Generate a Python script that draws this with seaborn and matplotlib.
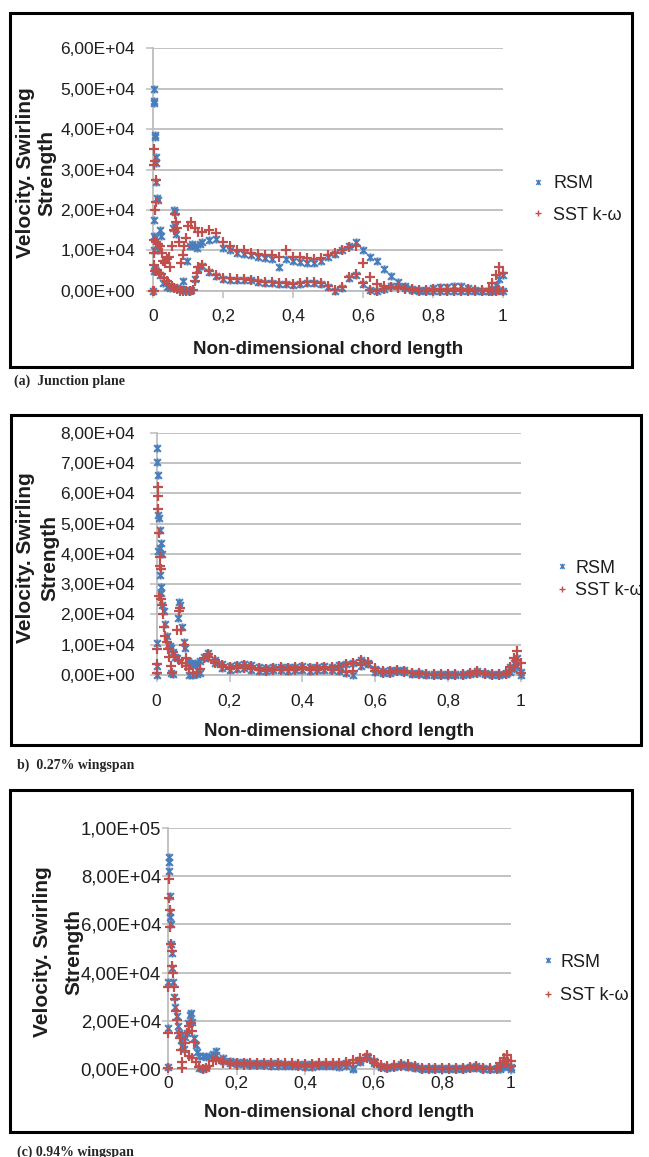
import pandas as pd
import matplotlib.pyplot as plt
import seaborn as sns
from matplotlib.path import Path
from matplotlib.patches import Rectangle
from matplotlib.lines import Line2D
from matplotlib.ticker import FuncFormatter, MultipleLocator

# Set style
sns.set_theme(style="whitegrid")
plt.rcParams['font.family'] = ['Liberation Sans', 'DejaVu Sans']

# ---------------- data (swirling strength in units of 1e4) ----------------
SCALE = 1e4
models = ['RSM', 'SST k-ω']

# chord stations used for the body of each surface (upper / lower branch)
chord = [0.14, 0.16, 0.18, 0.20, 0.22, 0.24, 0.26, 0.28, 0.30, 0.32,
         0.34, 0.36, 0.38, 0.40, 0.42, 0.44, 0.46, 0.48, 0.50, 0.52,
         0.54, 0.56, 0.58, 0.60, 0.62, 0.64, 0.66, 0.68, 0.70, 0.72,
         0.74, 0.76, 0.78, 0.80, 0.82, 0.84, 0.86, 0.88, 0.90, 0.92,
         0.94, 0.96, 0.97, 0.98, 0.99, 1.00]

# (a) Junction plane
p1_rsm_le = [(0.000, 0.00), (0.002, 5.00), (0.002, 4.70), (0.003, 4.65), (0.005, 3.85),
             (0.006, 3.80), (0.008, 3.30), (0.009, 3.15), (0.010, 2.70), (0.012, 2.30),
             (0.013, 2.25), (0.004, 1.75), (0.003, 1.35), (0.005, 1.30), (0.003, 1.00),
             (0.004, 0.50), (0.020, 1.50), (0.022, 1.35), (0.015, 1.00), (0.058, 1.55),
             (0.060, 2.00), (0.062, 1.95), (0.063, 1.60), (0.066, 1.40), (0.087, 0.25),
             (0.097, 0.75), (0.106, 1.10), (0.112, 1.15), (0.120, 1.10), (0.126, 1.05),
             (0.133, 1.15), (0.005, 0.55), (0.010, 0.50), (0.020, 0.40), (0.030, 0.20),
             (0.040, 0.10), (0.050, 0.08), (0.060, 0.10), (0.070, 0.08), (0.080, 0.05),
             (0.090, 0.02), (0.100, 0.00), (0.110, 0.03), (0.120, 0.30), (0.130, 0.55)]
p1_rsm_upper = [1.20, 1.25, 1.28, 1.05, 1.00, 0.95, 0.92, 0.88, 0.85, 0.82,
                0.80, 0.60, 0.80, 0.75, 0.72, 0.70, 0.70, 0.75, 0.85, 0.92,
                1.02, 1.12, 1.22, 1.00, 0.85, 0.75, 0.55, 0.38, 0.22, 0.12,
                0.06, 0.02, 0.02, 0.08, 0.10, 0.10, 0.12, 0.12, 0.08, 0.03,
                0.00, 0.00, 0.05, 0.15, 0.30, 0.40]
p1_rsm_lower = [0.62, 0.48, 0.38, 0.30, 0.28, 0.28, 0.28, 0.26, 0.22, 0.20,
                0.20, 0.18, 0.18, 0.16, 0.18, 0.20, 0.20, 0.18, 0.10, 0.00,
                0.08, 0.32, 0.40, 0.18, 0.02, 0.00, 0.04, 0.12, 0.12, 0.08,
                0.02, 0.00, 0.00, 0.00, 0.00, 0.00, 0.00, 0.00, 0.00, 0.00,
                0.00, 0.00, 0.00, 0.00, 0.02, 0.00]
p1_sst_le = [(0.003, 3.50), (0.004, 3.10), (0.005, 3.20), (0.008, 2.75), (0.010, 2.20),
             (0.007, 2.00), (0.004, 1.25), (0.008, 1.20), (0.015, 1.15), (0.020, 1.10),
             (0.025, 0.95), (0.030, 0.75), (0.035, 0.70), (0.040, 0.80), (0.045, 0.85),
             (0.050, 0.60), (0.055, 1.10), (0.060, 1.50), (0.062, 1.90), (0.065, 1.70),
             (0.070, 1.55), (0.075, 1.20), (0.080, 0.70), (0.085, 0.90), (0.090, 1.10),
             (0.095, 1.30), (0.100, 1.60), (0.110, 1.70), (0.120, 1.55), (0.130, 1.45),
             (0.002, 0.95), (0.003, 0.65), (0.000, 0.00), (0.003, 0.00), (0.005, 0.50),
             (0.010, 0.50), (0.017, 0.45), (0.024, 0.42), (0.031, 0.33), (0.039, 0.25),
             (0.046, 0.18), (0.053, 0.12), (0.060, 0.08), (0.068, 0.04), (0.077, 0.00),
             (0.085, 0.00), (0.095, 0.00), (0.105, 0.00), (0.115, 0.02), (0.120, 0.25),
             (0.125, 0.45), (0.130, 0.58)]
p1_sst_upper = [1.45, 1.50, 1.42, 1.22, 1.10, 1.02, 1.00, 0.95, 0.92, 0.90,
                0.90, 0.85, 1.00, 0.85, 0.85, 0.82, 0.80, 0.82, 0.88, 0.95,
                1.02, 1.08, 1.12, 0.70, 0.35, 0.18, 0.12, 0.10, 0.08, 0.06,
                0.04, 0.03, 0.03, 0.04, 0.05, 0.06, 0.05, 0.06, 0.04, 0.03,
                0.02, 0.05, 0.20, 0.40, 0.60, 0.45]
p1_sst_lower = [0.65, 0.50, 0.40, 0.33, 0.31, 0.30, 0.30, 0.28, 0.25, 0.22,
                0.22, 0.20, 0.20, 0.18, 0.20, 0.22, 0.22, 0.20, 0.12, 0.02,
                0.10, 0.35, 0.42, 0.20, 0.03, 0.00, 0.05, 0.10, 0.10, 0.08,
                0.03, 0.00, 0.00, 0.00, 0.00, 0.00, 0.00, 0.00, 0.00, 0.00,
                0.00, 0.00, 0.00, 0.00, 0.02, 0.00]

# (b) 0.27% wingspan
p2_rsm_le = [(0.000, 0.00), (0.000, 0.30), (0.000, 1.05), (0.002, 7.50), (0.002, 7.05),
             (0.003, 6.60), (0.005, 5.30), (0.006, 5.20), (0.008, 4.80), (0.005, 4.10),
             (0.010, 4.20), (0.012, 4.35), (0.014, 4.00), (0.008, 3.30), (0.012, 2.90),
             (0.013, 2.70), (0.016, 2.30), (0.020, 2.10), (0.024, 1.70), (0.028, 1.30),
             (0.032, 1.00), (0.036, 0.95), (0.040, 0.90), (0.045, 0.75), (0.050, 0.60),
             (0.055, 0.55), (0.058, 1.90), (0.062, 2.40), (0.065, 2.30), (0.070, 1.60),
             (0.075, 1.10), (0.078, 0.90), (0.085, 0.45), (0.090, 0.40), (0.095, 0.35),
             (0.100, 0.35), (0.105, 0.40), (0.110, 0.35), (0.120, 0.45), (0.130, 0.60),
             (0.090, 0.00), (0.100, 0.00), (0.110, 0.02), (0.120, 0.05), (0.040, 0.05),
             (0.045, 0.02)]
p2_rsm_upper = [0.72, 0.50, 0.35, 0.30, 0.32, 0.35, 0.32, 0.25, 0.22, 0.25,
                0.28, 0.25, 0.28, 0.30, 0.25, 0.28, 0.30, 0.28, 0.32, 0.35,
                0.38, 0.48, 0.40, 0.20, 0.12, 0.15, 0.18, 0.15, 0.08, 0.05,
                0.04, 0.03, 0.03, 0.03, 0.03, 0.03, 0.05, 0.12, 0.05, 0.03,
                0.03, 0.05, 0.25, 0.40, 0.55, 0.10]
p2_rsm_lower = [0.55, 0.38, 0.22, 0.18, 0.20, 0.22, 0.18, 0.14, 0.12, 0.15,
                0.16, 0.14, 0.16, 0.18, 0.14, 0.15, 0.18, 0.15, 0.12, 0.05,
                0.00, 0.30, 0.35, 0.10, 0.05, 0.08, 0.12, 0.10, 0.04, 0.02,
                0.01, 0.00, 0.00, 0.00, 0.00, 0.00, 0.02, 0.06, 0.02, 0.00,
                0.00, 0.02, 0.10, 0.20, 0.30, 0.00]
p2_sst_le = [(0.000, 0.05), (0.000, 0.35), (0.000, 0.85), (0.003, 6.20), (0.004, 5.90),
             (0.005, 5.50), (0.006, 4.70), (0.008, 3.90), (0.010, 3.60), (0.012, 3.50),
             (0.006, 2.60), (0.012, 2.50), (0.015, 2.30), (0.018, 2.00), (0.020, 1.60),
             (0.024, 1.30), (0.028, 1.10), (0.030, 0.85), (0.035, 0.60), (0.040, 0.30),
             (0.042, 0.05), (0.045, 0.75), (0.050, 0.60), (0.057, 1.50), (0.060, 2.10),
             (0.063, 2.20), (0.068, 1.50), (0.074, 1.00), (0.080, 0.55), (0.060, 0.50),
             (0.070, 0.40), (0.080, 0.30), (0.090, 0.20), (0.100, 0.05), (0.110, 0.05),
             (0.120, 0.20), (0.130, 0.55)]
p2_sst_upper = [0.70, 0.48, 0.32, 0.28, 0.30, 0.32, 0.30, 0.24, 0.20, 0.22,
                0.25, 0.22, 0.25, 0.28, 0.24, 0.26, 0.28, 0.26, 0.30, 0.35,
                0.40, 0.50, 0.42, 0.22, 0.12, 0.14, 0.16, 0.14, 0.08, 0.05,
                0.04, 0.04, 0.03, 0.03, 0.03, 0.04, 0.06, 0.12, 0.06, 0.04,
                0.04, 0.06, 0.28, 0.55, 0.78, 0.40]
p2_sst_lower = [0.58, 0.40, 0.25, 0.20, 0.22, 0.24, 0.20, 0.16, 0.14, 0.16,
                0.18, 0.16, 0.18, 0.20, 0.16, 0.17, 0.20, 0.18, 0.15, 0.10,
                0.12, 0.32, 0.38, 0.12, 0.06, 0.08, 0.12, 0.10, 0.05, 0.03,
                0.02, 0.01, 0.01, 0.01, 0.01, 0.01, 0.03, 0.08, 0.03, 0.01,
                0.01, 0.03, 0.15, 0.30, 0.50, 0.05]

# (c) 0.94% wingspan
p3_rsm_le = [(0.000, 0.10), (0.000, 1.70), (0.000, 3.60), (0.002, 8.80), (0.002, 8.60),
             (0.003, 8.20), (0.004, 7.20), (0.006, 6.50), (0.006, 6.30), (0.007, 6.00),
             (0.008, 5.20), (0.010, 4.80), (0.012, 4.20), (0.014, 3.60), (0.016, 3.00),
             (0.020, 2.60), (0.024, 2.20), (0.028, 1.80), (0.032, 1.50), (0.036, 1.20),
             (0.040, 0.95), (0.045, 0.85), (0.050, 1.35), (0.055, 1.50), (0.058, 1.90),
             (0.063, 2.25), (0.066, 2.35), (0.070, 1.95), (0.075, 1.30), (0.080, 1.00),
             (0.085, 0.70), (0.090, 0.55), (0.100, 0.55), (0.110, 0.50), (0.120, 0.55),
             (0.130, 0.65), (0.090, 0.05), (0.100, 0.00), (0.110, 0.05)]
p3_rsm_upper = [0.75, 0.45, 0.35, 0.30, 0.30, 0.28, 0.28, 0.27, 0.25, 0.25,
                0.24, 0.22, 0.22, 0.20, 0.20, 0.22, 0.22, 0.22, 0.20, 0.25,
                0.05, 0.40, 0.55, 0.35, 0.15, 0.10, 0.15, 0.20, 0.18, 0.12,
                0.06, 0.04, 0.04, 0.04, 0.04, 0.04, 0.05, 0.08, 0.12, 0.05,
                0.03, 0.05, 0.10, 0.25, 0.30, 0.10]
p3_rsm_lower = [0.60, 0.35, 0.25, 0.20, 0.20, 0.18, 0.18, 0.17, 0.15, 0.15,
                0.14, 0.12, 0.12, 0.10, 0.10, 0.12, 0.12, 0.12, 0.10, 0.15,
                0.00, 0.30, 0.45, 0.25, 0.08, 0.04, 0.08, 0.12, 0.10, 0.06,
                0.02, 0.00, 0.00, 0.00, 0.00, 0.00, 0.01, 0.04, 0.06, 0.02,
                0.00, 0.01, 0.03, 0.10, 0.15, 0.00]
p3_sst_le = [(0.000, 0.05), (0.000, 1.50), (0.000, 3.40), (0.003, 7.90), (0.003, 7.10),
             (0.004, 6.60), (0.006, 5.90), (0.008, 5.20), (0.010, 4.90), (0.012, 4.30),
             (0.014, 4.00), (0.017, 3.40), (0.020, 2.90), (0.023, 2.40), (0.026, 2.05),
             (0.030, 1.50), (0.034, 1.30), (0.037, 0.80), (0.039, 0.30), (0.040, 0.05),
             (0.050, 1.10), (0.055, 1.50), (0.060, 1.80), (0.065, 1.90), (0.070, 1.60),
             (0.075, 1.15), (0.050, 0.75), (0.060, 0.55), (0.070, 0.45), (0.080, 0.30),
             (0.090, 0.10), (0.100, 0.00), (0.110, 0.05), (0.120, 0.15), (0.130, 0.35)]
p3_sst_upper = [0.45, 0.35, 0.28, 0.26, 0.27, 0.28, 0.28, 0.27, 0.26, 0.26,
                0.25, 0.25, 0.24, 0.24, 0.24, 0.25, 0.26, 0.26, 0.28, 0.32,
                0.38, 0.48, 0.60, 0.40, 0.18, 0.12, 0.18, 0.22, 0.20, 0.15,
                0.07, 0.04, 0.04, 0.04, 0.04, 0.04, 0.05, 0.08, 0.14, 0.06,
                0.04, 0.05, 0.25, 0.45, 0.60, 0.35]
p3_sst_lower = [0.38, 0.28, 0.20, 0.17, 0.18, 0.19, 0.19, 0.18, 0.17, 0.17,
                0.16, 0.16, 0.15, 0.15, 0.15, 0.16, 0.17, 0.17, 0.18, 0.20,
                0.25, 0.35, 0.45, 0.28, 0.10, 0.06, 0.10, 0.14, 0.12, 0.08,
                0.03, 0.01, 0.01, 0.01, 0.01, 0.01, 0.02, 0.04, 0.08, 0.03,
                0.01, 0.02, 0.12, 0.25, 0.40, 0.15]

captions = ['(a)  Junction plane', 'b)  0.27% wingspan', '(c) 0.94% wingspan']


def panel_frame(rsm_le, rsm_up, rsm_lo, sst_le, sst_up, sst_lo):
    rows = []
    for model, le, up, lo in [(models[0], rsm_le, rsm_up, rsm_lo),
                              (models[1], sst_le, sst_up, sst_lo)]:
        rows += [(model, x, y) for x, y in le]
        rows += [(model, x, y) for x, y in zip(chord, up)]
        rows += [(model, x, y) for x, y in zip(chord, lo)]
    df = pd.DataFrame(rows, columns=['model', 'chord', 'strength'])
    df['strength'] = df['strength'] * SCALE
    return df


frames = [
    panel_frame(p1_rsm_le, p1_rsm_upper, p1_rsm_lower, p1_sst_le, p1_sst_upper, p1_sst_lower),
    panel_frame(p2_rsm_le, p2_rsm_upper, p2_rsm_lower, p2_sst_le, p2_sst_upper, p2_sst_lower),
    panel_frame(p3_rsm_le, p3_rsm_upper, p3_rsm_lower, p3_sst_le, p3_sst_upper, p3_sst_lower),
]

# ---------------- styling ----------------
BLUE = '#4A7EBB'
RED = '#C0504D'
GRID = '#BDBDBD'
INK = '#1E1E1E'
STAR = Path([(-1, -1), (1, 1), (-1, 1), (1, -1), (0, -1.2), (0, 1.2)],
            [Path.MOVETO, Path.LINETO, Path.MOVETO, Path.LINETO, Path.MOVETO, Path.LINETO])

W, H = 649, 1157
layout = [
    dict(rect=[0.2357, 0.7485, 0.5393, 0.2100], ymax=6e4, ystep=1e4, ysize=12.5, ypad=8,
         xpad=8, tick=5, ylab=(-0.333, 0.486), yls=1.16, xlab=-0.240,
         leg=(532.6, 199.5), htp=0.53, lsp=0.78, box=(10, 13, 632, 367), cap=(14, 381)),
    dict(rect=[0.2414, 0.4166, 0.5613, 0.2092], ymax=8e4, ystep=1e4, ysize=12.5, ypad=10.5,
         xpad=9, tick=5, ylab=(-0.326, 0.483), yls=1.37, xlab=-0.232,
         leg=(556.6, 579.5), htp=0.42, lsp=0.33, box=(10.5, 415, 641, 745), cap=(17, 765)),
    dict(rect=[0.2593, 0.0758, 0.5276, 0.2086], ymax=1e5, ystep=2e4, ysize=13.4, ypad=1,
         xpad=1, tick=4, ylab=(-0.321, 0.486), yls=1.85, xlab=-0.180,
         leg=(542.6, 979), htp=0.37, lsp=0.94, box=(9.5, 790, 632, 1132), cap=(17, 1152)),
]

fig = plt.figure(figsize=(W / 100, H / 100), dpi=100)
fig.patch.set_facecolor('white')

for df, spec, caption in zip(frames, layout, captions):
    ax = fig.add_axes(spec['rect'])
    ax.set_facecolor('white')

    sub = df[df['model'] == models[0]]
    sns.scatterplot(data=sub, x='chord', y='strength', ax=ax, marker=STAR, color=BLUE,
                    edgecolor=BLUE, s=34, linewidth=1.5, clip_on=False, zorder=3, legend=False)
    sub = df[df['model'] == models[1]]
    sns.scatterplot(data=sub, x='chord', y='strength', ax=ax, marker='+', color=RED,
                    s=46, linewidth=1.6, clip_on=False, zorder=4, legend=False)

    ax.set_xlim(0, 1)
    ax.set_ylim(0, spec['ymax'])
    ax.xaxis.set_major_locator(MultipleLocator(0.2))
    ax.yaxis.set_major_locator(MultipleLocator(spec['ystep']))
    ax.xaxis.set_major_formatter(FuncFormatter(lambda v, p: f"{v:g}".replace('.', ',')))
    ax.yaxis.set_major_formatter(FuncFormatter(lambda v, p: f"{v:.2E}".replace('.', ',')))

    ax.grid(False)
    ax.yaxis.grid(True, color=GRID, linewidth=1.3)
    sns.despine(ax=ax)
    for side in ['left', 'bottom']:
        ax.spines[side].set_color(GRID)
        ax.spines[side].set_linewidth(1.3)
    ax.tick_params(bottom=True, left=True, direction='out', length=spec['tick'],
                   width=1.1, color=GRID, labelcolor=INK)
    ax.tick_params(axis='x', labelsize=12.5, pad=spec['xpad'])
    ax.tick_params(axis='y', labelsize=spec['ysize'], pad=spec['ypad'])

    ax.set_xlabel('Non-dimensional chord length', fontsize=13.5, fontweight='bold', color=INK)
    ax.xaxis.set_label_coords(0.5, spec['xlab'])
    ax.xaxis.label.set_va('center')
    ax.set_ylabel('Velocity. Swirling\nStrength', fontsize=15, fontweight='bold',
                  color=INK, linespacing=spec['yls'])
    ax.yaxis.set_label_coords(*spec['ylab'])
    ax.yaxis.label.set_va('center')

    handles = [Line2D([], [], ls='none', marker=STAR, color=BLUE, mec=BLUE, ms=4, mew=1),
               Line2D([], [], ls='none', marker='+', color=RED, ms=4.5, mew=1)]
    lx, ly = spec['leg']
    ax.legend(handles, models, loc='center left', bbox_to_anchor=(lx / W, 1 - ly / H),
              bbox_transform=fig.transFigure, frameon=False, fontsize=13,
              handlelength=0.6, handletextpad=spec['htp'], labelspacing=spec['lsp'],
              borderpad=0, borderaxespad=0, labelcolor=INK)

    x0, y0, x1, y1 = spec['box']
    fig.add_artist(Rectangle((x0 / W, 1 - y1 / H), (x1 - x0) / W, (y1 - y0) / H,
                             transform=fig.transFigure, fill=False, ec='black', lw=2.2))
    cx, cy = spec['cap']
    fig.text(cx / W, 1 - cy / H, caption, fontsize=10, fontweight='bold',
             family=['Liberation Serif', 'DejaVu Serif'], va='center', ha='left')

fig.savefig('out.png', dpi=100)
plt.close(fig)
